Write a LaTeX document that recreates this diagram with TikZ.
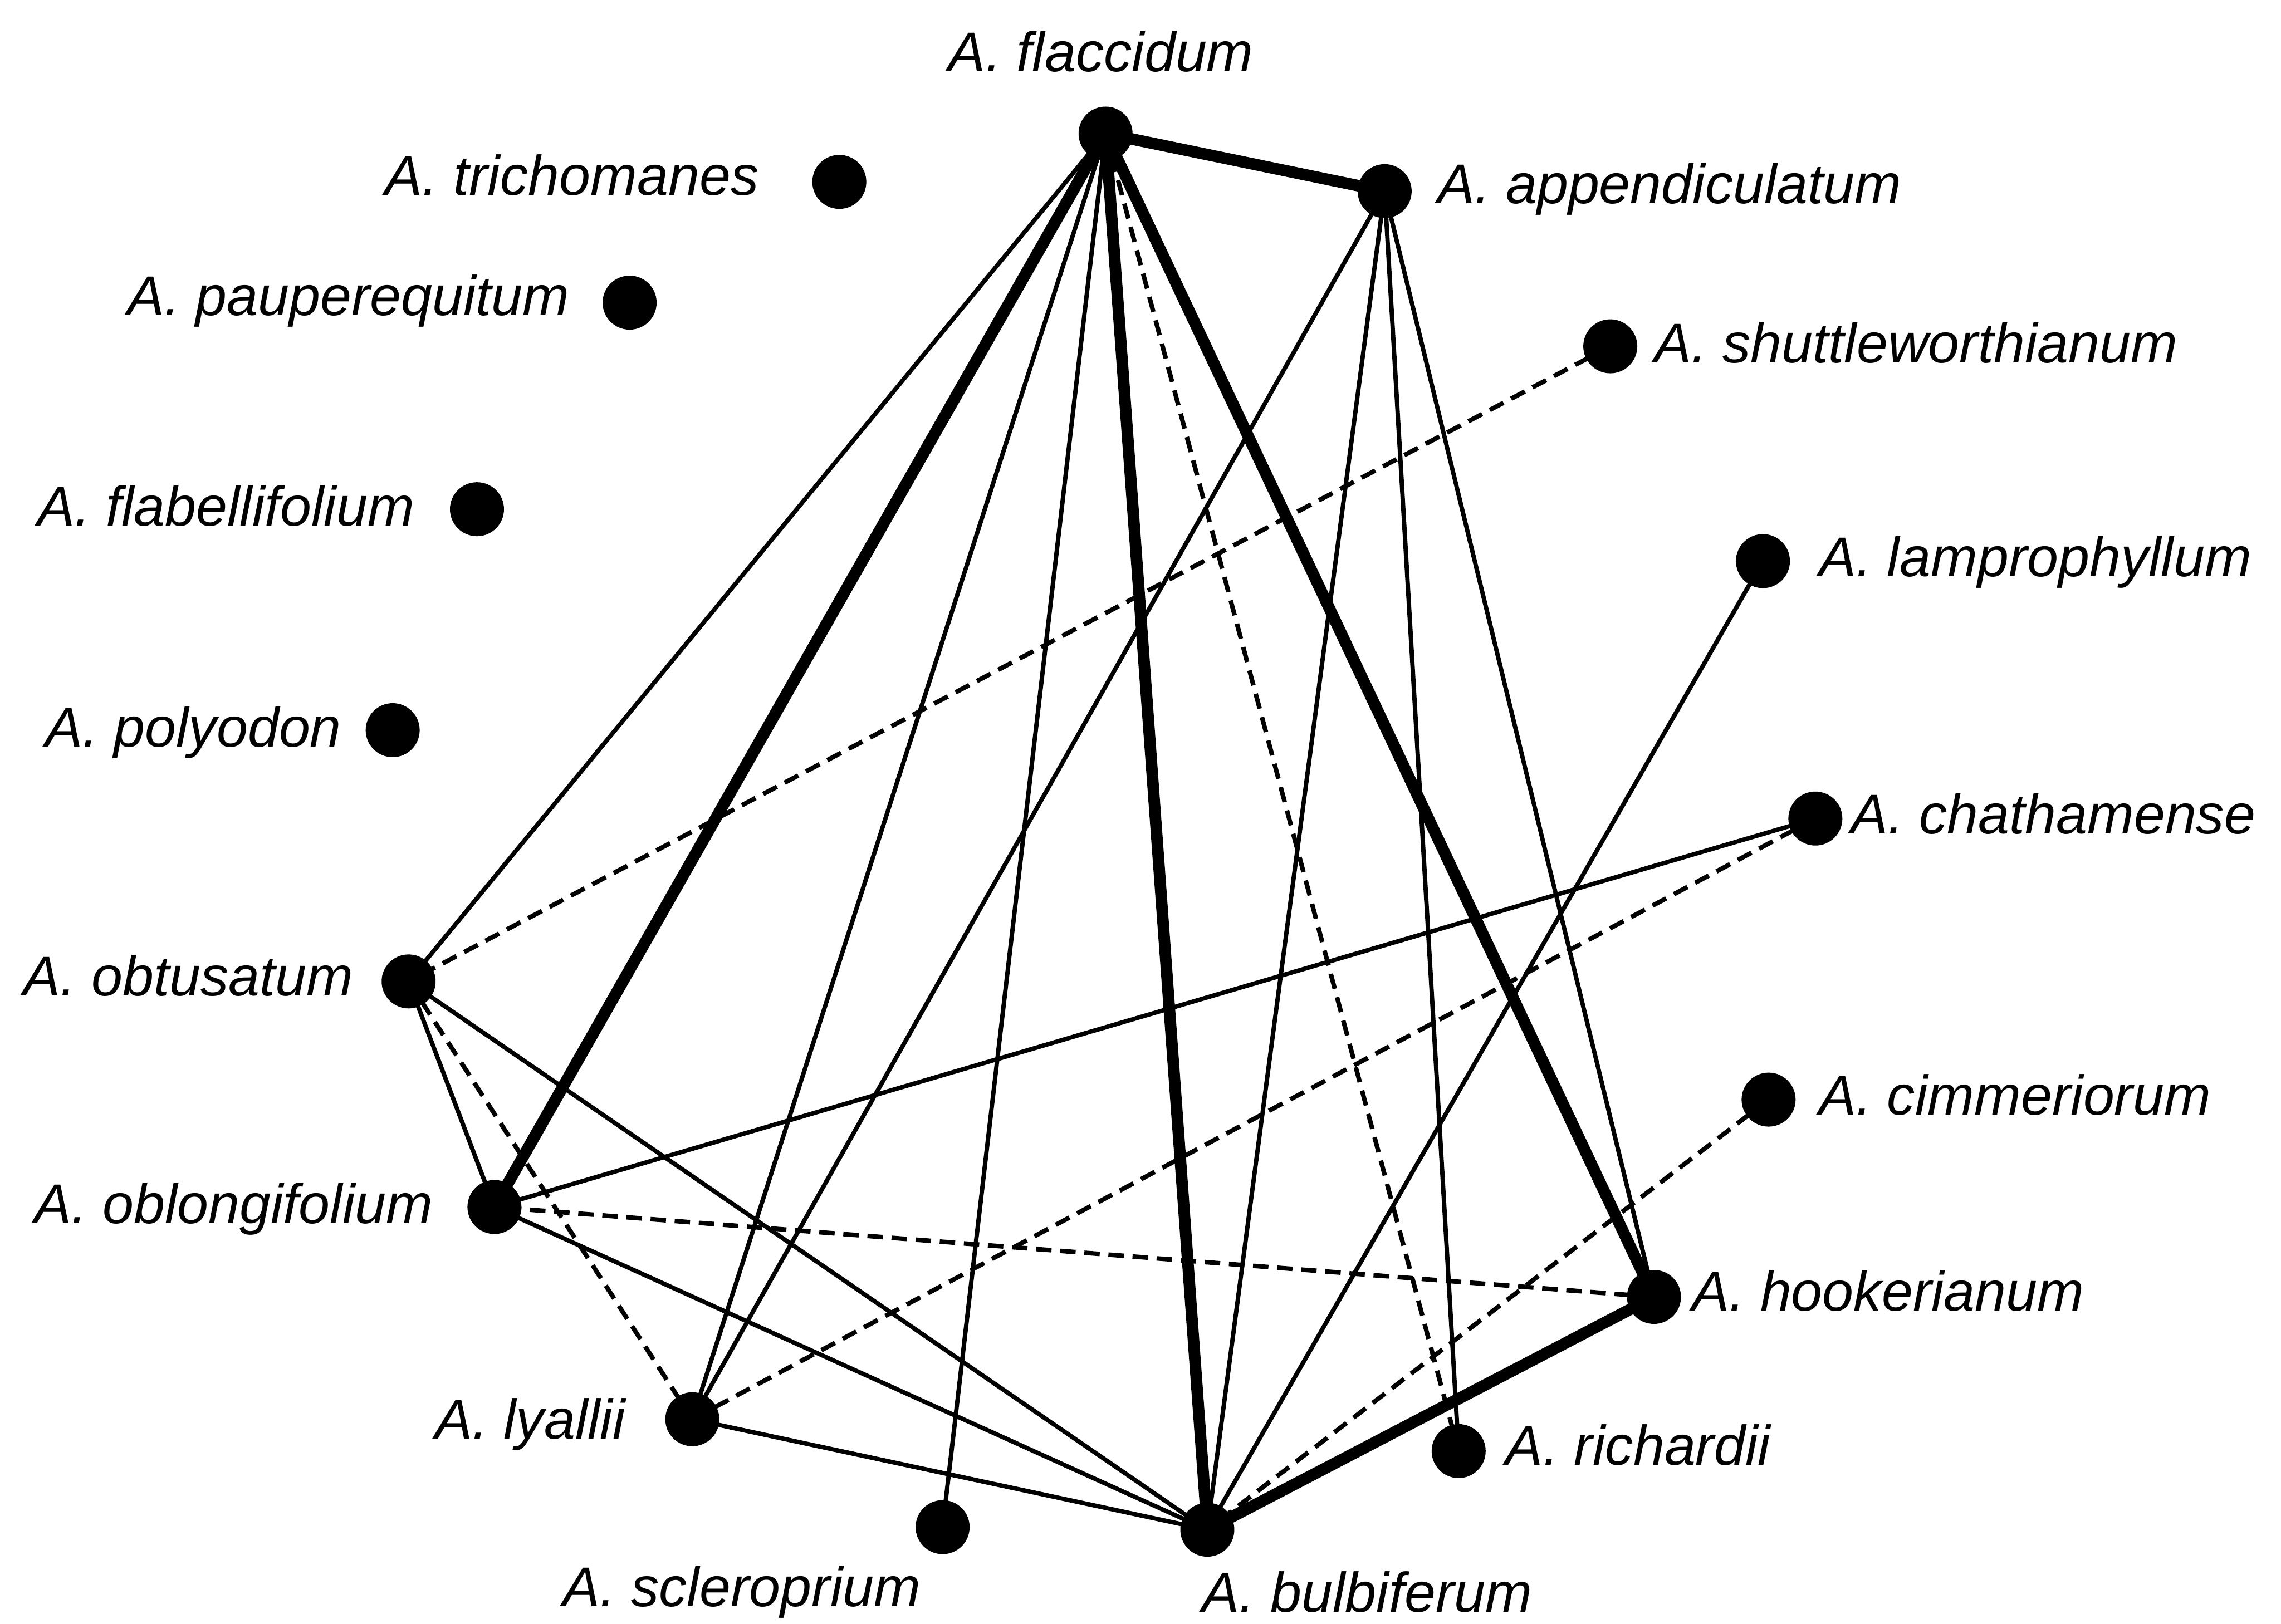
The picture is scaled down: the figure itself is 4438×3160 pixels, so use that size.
\documentclass[tikz,border=0pt]{standalone}
\usepackage{fontspec}
\setmainfont{Liberation Sans}
\usetikzlibrary{backgrounds}
\tikzset{
  dot/.style={circle, fill=black, inner sep=0pt, minimum size=1.05cm},
  lab/.style={font=\fontsize{31}{37}\selectfont\itshape, inner sep=0pt},
  thinedge/.style={line width=2.4pt},
  thickedge/.style={line width=6.4pt},
  dashedge/.style={line width=2.5pt, dash pattern=on 0.3cm off 0.17cm},
}
\begin{document}
\begin{tikzpicture}[x=0.01cm, y=-0.01cm]
\useasboundingbox (0,0) rectangle (4438,3160);
% dots
\node[dot] (fla) at (2151,260) {};
\node[dot] (app) at (2694,372) {};
\node[dot] (tri) at (1633,354) {};
\node[dot] (pau) at (1225,589) {};
\node[dot] (shu) at (3133,674) {};
\node[dot] (flb) at (928,991) {};
\node[dot] (lam) at (3430,1092) {};
\node[dot] (pol) at (764,1421) {};
\node[dot] (cha) at (3532,1593) {};
\node[dot] (obt) at (795,1910) {};
\node[dot] (cim) at (3441,2140) {};
\node[dot] (obl) at (962,2349) {};
\node[dot] (hoo) at (3218,2524) {};
\node[dot] (lya) at (1347,2762) {};
\node[dot] (ric) at (2838,2824) {};
\node[dot] (scl) at (1834,2972) {};
\node[dot] (bul) at (2349,2977) {};
% labels
\node[lab] (tfla) at (2142,100) {A. flaccidum};
\node[lab, anchor=mid east] (ttri) at (1477,370) {A. trichomanes};
\node[lab, anchor=mid east] (tpau) at (1109,605) {A. pauperequitum};
\node[lab, anchor=mid east] (tflb) at (807,1014) {A. flabellifolium};
\node[lab, anchor=mid east] (tpol) at (665,1444) {A. polyodon};
\node[lab, anchor=mid east] (tobt) at (688,1928) {A. obtusatum};
\node[lab, anchor=mid east] (tobl) at (843,2372) {A. oblongifolium};
\node[lab, anchor=mid east] (tlya) at (1217,2791) {A. lyallii};
\node[lab, anchor=mid west] (tapp) at (2796,387) {A. appendiculatum};
\node[lab, anchor=mid west] (tshu) at (3218,697) {A. shuttleworthianum};
\node[lab, anchor=mid west] (tlam) at (3538,1113) {A. lamprophyllum};
\node[lab, anchor=mid west] (tcha) at (3600,1613) {A. chathamense};
\node[lab, anchor=mid west] (tcim) at (3538,2160) {A. cimmeriorum};
\node[lab, anchor=mid west] (thoo) at (3291,2542) {A. hookerianum};
\node[lab, anchor=mid west] (tric) at (2929,2842) {A. richardii};
\node[lab] (tscl) at (1443,3098) {A. scleroprium};
\node[lab] (tbul) at (2660,3098) {A. bulbiferum};
% edges
\begin{scope}[on background layer]
\fill[white] (0,0) rectangle (4438,3160);
\draw[thickedge] (fla.center) -- (app.center);
\draw[thickedge] (fla.center) -- (obl.center);
\draw[thickedge] (fla.center) -- (bul.center);
\draw[thickedge] (fla.center) -- (hoo.center);
\draw[thickedge] (hoo.center) -- (bul.center);
\draw[thinedge] (fla.center) -- (obt.center);
\draw[thinedge] (fla.center) -- (lya.center);
\draw[thinedge] (fla.center) -- (scl.center);
\draw[dashedge] (fla.center) -- (ric.center);
\draw[thinedge] (app.center) -- (lya.center);
\draw[thinedge] (app.center) -- (bul.center);
\draw[thinedge] (app.center) -- (ric.center);
\draw[thinedge] (app.center) -- (hoo.center);
\draw[dashedge] (shu.center) -- (obt.center);
\draw[thinedge] (lam.center) -- (bul.center);
\draw[thinedge] (cha.center) -- (obl.center);
\draw[dashedge] (cha.center) -- (lya.center);
\draw[dashedge] (cim.center) -- (bul.center);
\draw[dashedge] (hoo.center) -- (obl.center);
\draw[thinedge] (obt.center) -- (obl.center);
\draw[dashedge] (obt.center) -- (lya.center);
\draw[thinedge] (obt.center) -- (bul.center);
\draw[thinedge] (obl.center) -- (bul.center);
\draw[thinedge] (lya.center) -- (bul.center);
\end{scope}
\end{tikzpicture}
\end{document}
